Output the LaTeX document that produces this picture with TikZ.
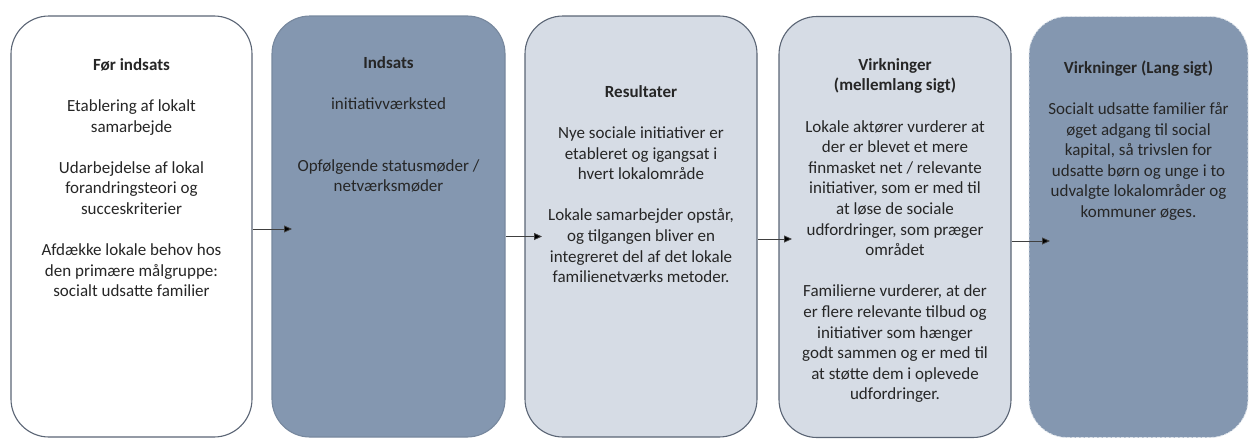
\documentclass[tikz,border=0pt]{standalone}
\usepackage{fontspec}
\setmainfont{Carlito}
\usetikzlibrary{arrows.meta}
\definecolor{bgray}{HTML}{8497B0}
\definecolor{lgray}{HTML}{D6DCE5}
\definecolor{edge}{HTML}{5B6575}
\definecolor{txt}{HTML}{262626}
\tikzset{
  stage/.style={draw=edge, line width=1.1pt, rounded corners=38pt, minimum width=#1, minimum height=421pt, inner sep=0pt},
  body/.style={anchor=north, align=center, inner sep=0pt, text=txt, font=\fontsize{17}{20.6}\selectfont},
  arr/.style={draw=black!75, line width=0.8pt, -{Triangle[length=8pt,width=7pt,fill=black]}},
}
\newcommand{\st}{\rule{0pt}{14pt}}
\newcommand{\gap}{\\[20.6pt]}
\begin{document}
\begin{tikzpicture}[x=1pt,y=-1pt]
\useasboundingbox (0,0) rectangle (1250,439);
\node[stage=241pt, fill=white] (b1) at (131.5,226.5) {};
\node[stage=233pt, fill=bgray, draw=bgray!90!black] (b2) at (388.5,226.5) {};
\node[stage=232pt, fill=lgray] (b3) at (641,226.5) {};
\node[stage=232pt, fill=lgray] (b4) at (895,227) {};
\node[stage=219pt, fill=bgray, draw=white!75!bgray, line width=0.8pt, dash pattern=on 3pt off 1.5pt] (b5) at (1138.5,227) {};

\node[body] (t1) at (131.5,56) {\st\textbf{Før indsats}\gap
Etablering af lokalt\\samarbejde\gap
Udarbejdelse af lokal\\forandringsteori og\\succeskriterier\gap
Afdække lokale behov hos\\den primære målgruppe:\\socialt udsatte familier};

\node[body] (t2) at (388.5,54) {\st\textbf{Indsats}\gap
initiativværksted\gap\mbox{}\\
Opfølgende statusmøder /\\netværksmøder};

\node[body] (t3) at (641,83) {\st\textbf{Resultater}\gap
Nye sociale initiativer er\\etableret og igangsat i\\hvert lokalområde\gap
Lokale samarbejder opstår,\\og tilgangen bliver en\\integreret del af det lokale\\familienetværks metoder.};

\node[body] (t4) at (895,56) {\st\textbf{Virkninger}\\\textbf{(mellemlang sigt)}\gap
Lokale aktører vurderer at\\der er blevet et mere\\finmasket net / relevante\\initiativer, som er med til\\at løse de sociale\\udfordringer, som præger\\området\gap
Familierne vurderer, at der\\er flere relevante tilbud og\\initiativer som hænger\\godt sammen og er med til\\at støtte dem i oplevede\\udfordringer.};

\node[body] (t5) at (1138.5,59) {\st\textbf{Virkninger (Lang sigt)}\gap
Socialt udsatte familier får\\øget adgang til social\\kapital, så trivslen for\\udsatte børn og unge i to\\udvalgte lokalområder og\\kommuner øges.};

\coordinate (e1) at (292,229);
\coordinate (e2) at (542,236.5);
\coordinate (e3) at (792,239);
\coordinate (e4) at (1050,241);
\draw[arr] (b1.east |- e1) -- (e1);
\draw[arr] (b2.east |- e2) -- (e2);
\draw[arr] (b3.east |- e3) -- (e3);
\draw[arr] (b4.east |- e4) -- (e4);
\end{tikzpicture}
\end{document}
